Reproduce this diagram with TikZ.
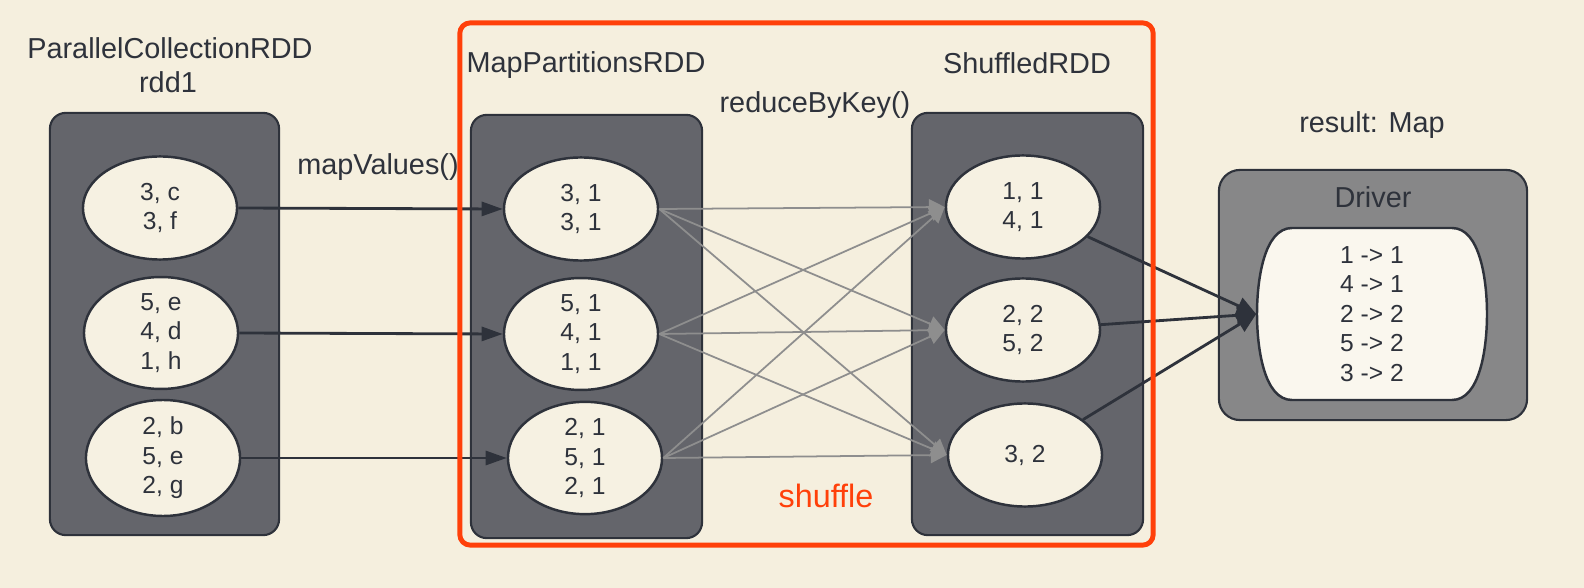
\documentclass[tikz,border=0pt]{standalone}
\usepackage{fontspec}
\setmainfont{Liberation Sans}
\usepackage{tikz}
\usetikzlibrary{shapes.geometric, arrows.meta}

\definecolor{bgcream}{HTML}{F5EFDE}
\definecolor{boxgray}{HTML}{64656B}
\definecolor{drvgray}{HTML}{878788}
\definecolor{inkdark}{HTML}{2E323B}
\definecolor{cellfill}{HTML}{F6F1E2}
\definecolor{linegray}{HTML}{8E8E8E}
\definecolor{shufred}{HTML}{FF400A}

\begin{document}
\begin{tikzpicture}[x=0.01cm, y=-0.01cm,
  title/.style={anchor=base, text=inkdark, font=\fontsize{8.2}{9}\selectfont},
  rddbox/.style={draw=inkdark, line width=0.6pt, fill=boxgray, rounded corners=4.5pt},
  part/.style={ellipse, draw=inkdark, line width=0.7pt, fill=cellfill, inner sep=0pt,
    minimum width=1.54cm, minimum height=1.03cm, align=center, text=inkdark,
    font=\fontsize{7}{8.4}\selectfont},
  maparrow/.style={draw=inkdark, line width=0.8pt, -{Triangle[length=6pt,width=4pt]}},
  shufline/.style={draw=linegray, line width=0.5pt, -{Triangle[length=4.5pt,width=4.5pt]}},
  collarrow/.style={draw=inkdark, line width=0.8pt, -{Triangle[length=5.5pt,width=5pt]}}
]
  % Background
  \fill[bgcream] (0,0) rectangle (1584,588);
  % RDD boxes
  \node[rddbox, minimum width=2.29cm, minimum height=4.22cm] (pbox) at (164.5,324) {};
  \node[rddbox, minimum width=2.31cm, minimum height=4.23cm] (mbox) at (586.5,326.5) {};
  \node[rddbox, minimum width=2.31cm, minimum height=4.22cm] (sbox) at (1027.5,324) {};
  % Labels
  \node[title] (ptitle) at (170,59) {ParallelCollectionRDD};
  \node[title] (pname) at (168,93) {rdd1};
  \node[title] (mtitle) at (586,73) {MapPartitionsRDD};
  \node[title] (stitle) at (1027,74) {ShuffledRDD};
  \node[title] (maplbl) at (378,175) {mapValues()};
  \node[title] (redlbl) at (815,113) {reduceByKey()};
  \node[title] (reslbl) at (1372,133) {result: Map};
  % Partitions
  \node[part] (p1) at (160,208) {3, c\\3, f};
  \node[part] (p2) at (161,333) {5, e\\4, d\\1, h};
  \node[part] (p3) at (163,458) {2, b\\5, e\\2, g};
  \node[part] (m1) at (581,209) {3, 1\\3, 1};
  \node[part] (m2) at (581,334) {5, 1\\4, 1\\1, 1};
  \node[part] (m3) at (585,458) {2, 1\\5, 1\\2, 1};
  \node[part] (s1) at (1023,207) {1, 1\\4, 1};
  \node[part] (s2) at (1023,330) {2, 2\\5, 2};
  \node[part] (s3) at (1025,455) {3, 2};
  % Driver
  \node[draw=inkdark, line width=0.6pt, fill=drvgray, rounded corners=6pt,
    minimum width=3.08cm, minimum height=2.5cm] (drvbox) at (1373,295) {};
  \node[title] (drvlbl) at (1373,208) {Driver};
  % barrel round the map
  \draw[draw=inkdark, line width=0.7pt, fill=cellfill!60!white]
    (1292,228) -- (1452,228) .. controls (1480,228) and (1487,280) .. (1487,314)
    .. controls (1487,348) and (1480,400) .. (1452,400) -- (1292,400)
    .. controls (1264,400) and (1257,348) .. (1257,314)
    .. controls (1257,280) and (1264,228) .. (1292,228) -- cycle;
  \node[inner sep=0pt, minimum width=2.3cm, minimum height=1.72cm, align=center,
    text=inkdark, font=\fontsize{7}{8.4}\selectfont] (drv) at (1372,314)
    {1 -> 1\\4 -> 1\\2 -> 2\\5 -> 2\\3 -> 2};
  % mapValues
  \foreach \i in {1,2,3} {
    \draw[maparrow] (p\i.east) -- (m\i.west);
  }
  % Shuffle lines
  \foreach \i in {1,2,3} {
    \foreach \j in {1,2,3} {
      \draw[shufline] (m\i.east) -- (s\j.west);
    }
  }
  % Collect to driver
  \foreach \j in {1,2,3} {
    \draw[collarrow] (s\j) -- (drv.west);
  }
  % Shuffle frame
  \node[draw=shufred, line width=1.4pt, rounded corners=3pt,
    minimum width=6.93cm, minimum height=5.22cm] (shufframe) at (806.5,284) {};
  \node[anchor=base, text=shufred, font=\fontsize{9.2}{10}\selectfont] (shuflbl) at (826,508) {shuffle};
\end{tikzpicture}
\end{document}
